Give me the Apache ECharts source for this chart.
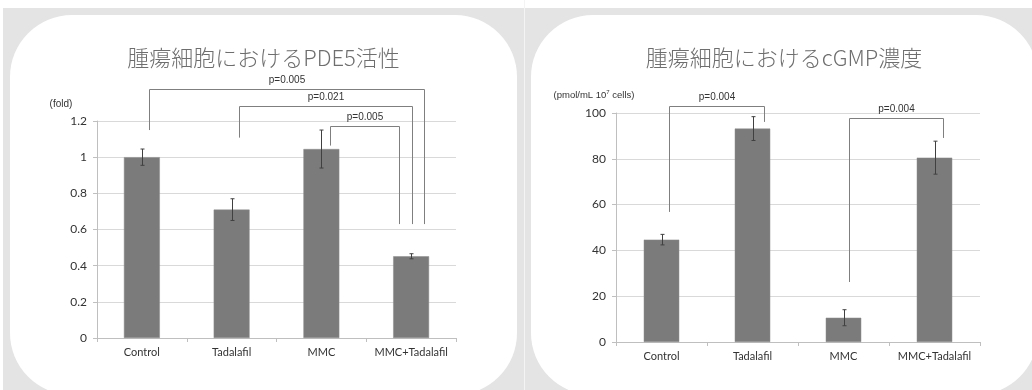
<!DOCTYPE html>
<html>
<head>
<meta charset="utf-8">
<script src="https://cdn.jsdelivr.net/npm/echarts@6/dist/echarts.min.js"></script>
<style>
html,body{margin:0;padding:0;background:#fff;}
#chart{width:1032px;height:390px;}
</style>
</head>
<body>
<div id="chart"></div>
<script>
// ---- data ----
const categories = ['Control', 'Tadalafil', 'MMC', 'MMC+Tadalafil'];

const pde5Title = '腫瘍細胞におけるPDE5活性';
const pde5Unit = '(fold)';
const pde5Values = [1.0, 0.71, 1.045, 0.452];
const pde5Errors = [0.045, 0.06, 0.105, 0.014];
const pde5Ticks = [0, 0.2, 0.4, 0.6, 0.8, 1, 1.2];

const cgmpTitle = '腫瘍細胞におけるcGMP濃度';
const cgmpValues = [44.7, 93.2, 10.6, 80.5];
const cgmpErrors = [2.3, 5.2, 3.5, 7.2];
const cgmpTicks = [0, 20, 40, 60, 80, 100];

// significance brackets (category names, p label, heights in data units, shift within category band)
const pde5Brackets = [
  {from: 'Control',   to: 'MMC+Tadalafil', p: 'p=0.005', top: 1.376, fromEnd: 1.150, toEnd: 0.630, fromShift: 0.08,  toShift: 0.142},
  {from: 'Tadalafil', to: 'MMC+Tadalafil', p: 'p=0.021', top: 1.285, fromEnd: 1.108, toEnd: 0.630, fromShift: 0.08,  toShift: 0.005},
  {from: 'MMC',       to: 'MMC+Tadalafil', p: 'p=0.005', top: 1.173, fromEnd: 1.064, toEnd: 0.630, fromShift: 0.094, toShift: -0.133}
];
const cgmpBrackets = [
  {from: 'Control', to: 'Tadalafil',     p: 'p=0.004', top: 102.9, fromEnd: 56.8, toEnd: 96.1, fromShift: 0.086, toShift: 0.13},
  {from: 'MMC',     to: 'MMC+Tadalafil', p: 'p=0.004', top: 98.0,  fromEnd: 26.2, toEnd: 89.1, fromShift: 0.064, toShift: 0.09}
];

// ---- styles ----
const BAR = '#7b7b7b';
const GRID_LINE = '#d9d9d9';
const AXIS_LINE = '#bfbfbf';
const TEXT = '#333333';
const BRACKET = '#7f7f7f';
const ERR = '#404040';
const LATIN = 'Lato, "Open Sans", sans-serif';
const ARIAL = '"Liberation Sans", Arial, sans-serif';
const CJK = '"Noto Sans CJK JP", "Noto Sans", sans-serif';

const chart = echarts.init(document.getElementById('chart'), null, {renderer: 'canvas'});

function errorSeries(gridIdx, values, errors) {
  return {
    type: 'custom',
    xAxisIndex: gridIdx, yAxisIndex: gridIdx,
    z: 5,
    data: values.map((v, i) => [i, v, errors[i]]),
    encode: {x: 0, y: 1},
    renderItem: function (params, api) {
      const i = api.value(0), v = api.value(1), e = api.value(2);
      const hi = api.coord([i, v + e]);
      const lo = api.coord([i, v - e]);
      const x = Math.round(hi[0]) + 0.5;
      const cap = 2;
      const st = {stroke: ERR, lineWidth: 1};
      return {
        type: 'group',
        children: [
          {type: 'line', shape: {x1: x, y1: hi[1], x2: x, y2: lo[1]}, style: st},
          {type: 'line', shape: {x1: x - cap, y1: hi[1], x2: x + cap, y2: hi[1]}, style: st},
          {type: 'line', shape: {x1: x - cap, y1: lo[1], x2: x + cap, y2: lo[1]}, style: st}
        ]
      };
    }
  };
}

function bracketSeries(gridIdx, brackets) {
  return {
    type: 'custom',
    xAxisIndex: gridIdx, yAxisIndex: gridIdx,
    z: 6,
    clip: false,
    silent: true,
    data: brackets.map(b => [categories.indexOf(b.from), b.top, categories.indexOf(b.to), b.fromEnd, b.toEnd]),
    encode: {x: 0, y: 1},
    renderItem: function (params, api) {
      const b = brackets[params.dataIndex];
      const band = api.size([1, 0])[0];
      const i1 = api.value(0), i2 = api.value(2);
      const topL = api.coord([i1, api.value(1)]);
      const topR = api.coord([i2, api.value(1)]);
      const endL = api.coord([i1, api.value(3)]);
      const endR = api.coord([i2, api.value(4)]);
      const xL = Math.round(topL[0] + b.fromShift * band) + 0.5;
      const xR = Math.round(topR[0] + b.toShift * band) + 0.5;
      const yT = Math.round(topL[1]) + 0.5;
      const st = {stroke: BRACKET, lineWidth: 1, fill: null};
      return {
        type: 'group',
        children: [
          {type: 'polyline', shape: {points: [[xL, endL[1]], [xL, yT], [xR, yT], [xR, endR[1]]]}, style: st},
          {type: 'text', style: {text: b.p, x: (xL + xR) / 2, y: yT - 9, align: 'center', verticalAlign: 'middle',
            font: '10px ' + ARIAL, fill: TEXT}}
        ]
      };
    }
  };
}

function xAxis(gridIdx) {
  return {
    type: 'category', gridIndex: gridIdx, data: categories,
    axisLine: {lineStyle: {color: AXIS_LINE, width: 1}},
    axisTick: {show: true, length: 4, lineStyle: {color: AXIS_LINE}},
    axisLabel: {color: TEXT, fontFamily: LATIN, fontSize: 11, margin: 9, interval: 0}
  };
}

function yAxis(gridIdx, ticks, name, nameOpts) {
  return Object.assign({
    type: 'value', gridIndex: gridIdx,
    min: ticks[0], max: ticks[ticks.length - 1], interval: ticks[1] - ticks[0],
    axisLine: {show: true, lineStyle: {color: AXIS_LINE, width: 1}},
    axisTick: {show: true, length: 4, lineStyle: {color: AXIS_LINE}},
    splitLine: {lineStyle: {color: GRID_LINE, width: 1}},
    axisLabel: {color: TEXT, fontFamily: LATIN, fontSize: 12, margin: 10},
    name: name, nameLocation: 'end'
  }, nameOpts);
}

const option = {
  animation: false,
  backgroundColor: '#ffffff',
  graphic: [
    {type: 'rect', z: -10, shape: {x: 3, y: 8, width: 1040, height: 400}, style: {fill: '#e4e4e4'}},
    {type: 'rect', z: -9, shape: {x: 524, y: 0, width: 1, height: 400}, style: {fill: '#f4f4f4'}},
    {type: 'rect', z: -8, shape: {x: 10, y: 15, width: 507, height: 380, r: 62}, style: {fill: '#ffffff'}},
    {type: 'rect', z: -8, shape: {x: 531, y: 15, width: 507, height: 380, r: 62}, style: {fill: '#ffffff'}},
    {type: 'text', z: 10, style: {text: pde5Title, x: 263.5, y: 57.5, align: 'center', verticalAlign: 'middle',
      font: '300 22px ' + CJK, fill: '#6e6e6e'}},
    {type: 'text', z: 10, style: {text: cgmpTitle, x: 784, y: 57.5, align: 'center', verticalAlign: 'middle',
      font: '300 22px ' + CJK, fill: '#6e6e6e'}}
  ],
  grid: [
    {left: 97, right: 576, top: 121, bottom: 52, containLabel: false},
    {left: 616, right: 52, top: 113, bottom: 48, containLabel: false}
  ],
  xAxis: [xAxis(0), xAxis(1)],
  yAxis: [
    yAxis(0, pde5Ticks, pde5Unit, {
      nameGap: 17,
      nameTextStyle: {color: TEXT, fontFamily: ARIAL, fontSize: 10, align: 'center', verticalAlign: 'middle', padding: [0, 72, 0, 0]}
    }),
    yAxis(1, cgmpTicks, '(pmol/mL 10{sup|7} cells)', {
      nameGap: 18,
      nameTextStyle: {color: TEXT, fontFamily: ARIAL, fontSize: 9.5, align: 'center', verticalAlign: 'middle', padding: [0, 44, 0, 0],
        rich: {sup: {fontFamily: ARIAL, fontSize: 6, color: TEXT, verticalAlign: 'top', padding: [0, 0, 5, 0]}}}
    })
  ],
  series: [
    {type: 'bar', xAxisIndex: 0, yAxisIndex: 0, data: pde5Values, barWidth: '40%',
      itemStyle: {color: BAR, borderColor: '#8c8c8c', borderWidth: 0.5}},
    errorSeries(0, pde5Values, pde5Errors),
    bracketSeries(0, pde5Brackets),
    {type: 'bar', xAxisIndex: 1, yAxisIndex: 1, data: cgmpValues, barWidth: '39%',
      itemStyle: {color: BAR, borderColor: '#8c8c8c', borderWidth: 0.5}},
    errorSeries(1, cgmpValues, cgmpErrors),
    bracketSeries(1, cgmpBrackets)
  ]
};
chart.setOption(option);
</script>
</body>
</html>
